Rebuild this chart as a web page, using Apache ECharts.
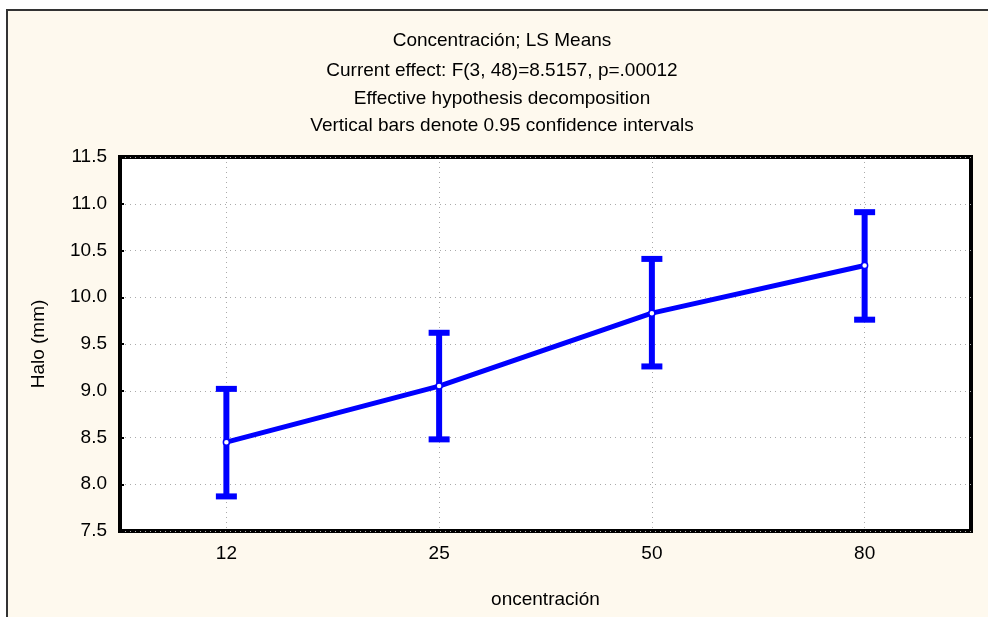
<!DOCTYPE html>
<html>
<head>
<meta charset="utf-8">
<script src="https://cdn.jsdelivr.net/npm/echarts@6/dist/echarts.min.js"></script>
<style>
  html, body { margin: 0; padding: 0; background: #fff; }
  #main { width: 988px; height: 617px; }
</style>
</head>
<body>
<div id="main"></div>
<script>
// concentration levels and LS means with 0.95 confidence limits
var categories = ['12', '25', '50', '80'];
var means = [8.45, 9.05, 9.83, 10.34];
var lower = [7.87, 8.48, 9.26, 9.76];
var upper = [9.02, 9.62, 10.41, 10.91];

var titleLines = [
  'Concentración; LS Means',
  'Current effect: F(3, 48)=8.5157, p=.00012',
  'Effective hypothesis decomposition',
  'Vertical bars denote 0.95 confidence intervals'
];
var titleCenters = [41, 71, 99, 126];

var FONT = '"Liberation Sans", Arial, sans-serif';
var BLUE = '#0000ff';

var errData = categories.map(function (c, i) { return [i, lower[i], upper[i]]; });

var chart = echarts.init(document.getElementById('main'));

var option = {
  backgroundColor: '#fff',
  animation: false,
  title: titleLines.map(function (t, i) {
    return {
      text: t,
      left: 502,
      textAlign: 'center',
      top: titleCenters[i] - 10,
      padding: 0,
      textStyle: { fontFamily: FONT, fontSize: 19, fontWeight: 'normal', color: '#000', lineHeight: 20 }
    };
  }),
  graphic: [{
    type: 'rect',
    z: -10,
    silent: true,
    shape: { x: 7, y: 10, width: 1000, height: 700 },
    style: { fill: '#fef9ee', stroke: '#333', lineWidth: 2 }
  }],
  grid: {
    left: 120, top: 157, right: 17, bottom: 86,
    show: true,
    backgroundColor: '#fff',
    borderColor: '#000',
    borderWidth: 4,
    z: 0
  },
  xAxis: {
    type: 'category',
    data: categories,
    boundaryGap: true,
    name: 'oncentración',
    nameLocation: 'middle',
    nameGap: 59,
    nameTextStyle: { fontFamily: FONT, fontSize: 19, color: '#000' },
    axisLine: { show: false },
    axisTick: { show: false, alignWithLabel: true },
    axisLabel: { fontFamily: FONT, fontSize: 19, color: '#000', margin: 13 },
    splitLine: {
      show: true,
      alignWithLabel: true,
      lineStyle: { color: '#aaa', type: [1, 4], width: 1 }
    }
  },
  yAxis: {
    type: 'value',
    min: 7.5,
    max: 11.5,
    interval: 0.5,
    name: 'Halo (mm)',
    nameLocation: 'middle',
    nameGap: 72,
    nameTextStyle: { fontFamily: FONT, fontSize: 19, color: '#000' },
    axisLine: { show: false },
    axisTick: { show: true, inside: true, length: 4, lineStyle: { color: '#000', width: 2 } },
    axisLabel: {
      fontFamily: FONT, fontSize: 19, color: '#000', margin: 13,
      formatter: function (v) { return v.toFixed(1); }
    },
    splitLine: { show: true, lineStyle: { color: '#aaa', type: [1, 4], width: 1 } }
  },
  series: [
    {
      type: 'custom',
      z: 3,
      data: errData,
      renderItem: function (params, api) {
        var x = api.coord([api.value(0), api.value(1)])[0];
        var yLo = api.coord([api.value(0), api.value(1)])[1];
        var yHi = api.coord([api.value(0), api.value(2)])[1];
        var half = 10.5;
        var st = { stroke: BLUE, lineWidth: 6 };
        return {
          type: 'group',
          children: [
            { type: 'line', shape: { x1: x, y1: yLo, x2: x, y2: yHi }, style: st },
            { type: 'line', shape: { x1: x - half, y1: yHi, x2: x + half, y2: yHi }, style: st },
            { type: 'line', shape: { x1: x - half, y1: yLo, x2: x + half, y2: yLo }, style: st }
          ]
        };
      }
    },
    {
      type: 'line',
      z: 5,
      data: means,
      symbol: 'circle',
      symbolSize: 6,
      lineStyle: { color: BLUE, width: 5 },
      itemStyle: { color: '#fff', borderColor: BLUE, borderWidth: 1.5 }
    }
  ]
};

chart.setOption(option);
</script>
</body>
</html>
